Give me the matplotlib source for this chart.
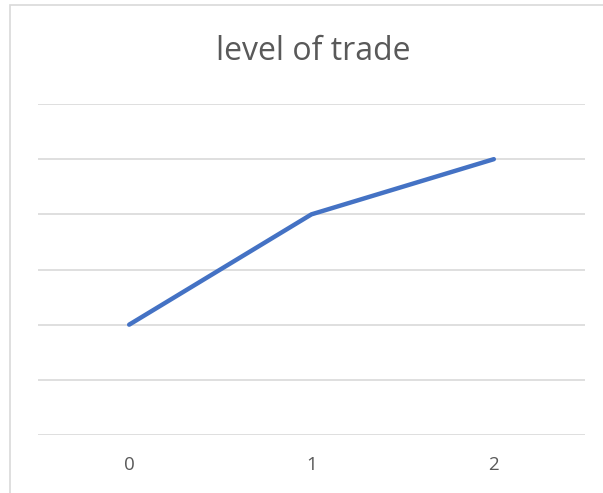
import matplotlib.pyplot as plt
from matplotlib.patches import Rectangle

# data
categories = ["0", "1", "2"]
level = [2, 4, 5]

W, H = 603, 493
fig = plt.figure(figsize=(W / 100, H / 100), dpi=100)
fig.patch.set_facecolor("white")

# chart border (light gray, cut off at right/bottom)
fig.patches.append(Rectangle((10 / W, -0.05), 1.1, 1 - 5 / H + 0.05,
                             transform=fig.transFigure, fill=False,
                             edgecolor="#D9D9D9", linewidth=1.2))

ax = fig.add_axes([38 / W, 1 - 435 / H, (585 - 38) / W, (435 - 104) / H])
x = list(range(len(categories)))
ax.plot(x, level, color="#4472C4", linewidth=3.2, solid_capstyle="round",
        solid_joinstyle="round", zorder=3)

ax.set_xlim(-0.5, len(categories) - 0.5)
ax.set_ylim(0, 6)
ax.set_yticks(range(0, 7))
ax.yaxis.grid(True, color="#D9D9D9", linewidth=1.2)
ax.tick_params(axis="y", left=False, labelleft=False)
ax.set_xticks(x)
ax.set_xticklabels(categories, fontsize=13.5, color="#595959", family="Open Sans")
ax.tick_params(axis="x", length=0, pad=15)
for s in ax.spines.values():
    s.set_visible(False)

fig.text(313 / W, 1 - 51.5 / H, "level of trade", ha="center", va="center",
         fontsize=23, color="#595959", family="Open Sans")

fig.savefig("out.png", dpi=100)
